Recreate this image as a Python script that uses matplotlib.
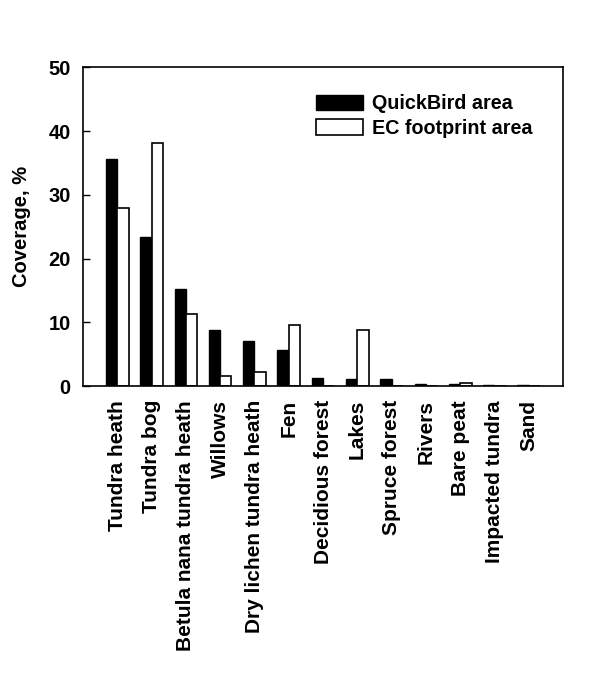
import matplotlib
matplotlib.use("Agg")
import matplotlib.pyplot as plt
import numpy as np

# ── data ──────────────────────────────────────────────────────────────────────
categories = [
    "Tundra heath", "Tundra bog", "Betula nana tundra heath", "Willows",
    "Dry lichen tundra heath", "Fen", "Decidious forest", "Lakes",
    "Spruce forest", "Rivers", "Bare peat", "Impacted tundra", "Sand",
]
quickbird = [35.6, 23.4, 15.2, 8.8, 7.1, 5.6, 1.3, 1.1, 1.2, 0.3, 0.4, 0.2, 0.2]
ec_footprint = [27.9, 38.1, 11.3, 1.6, 2.2, 9.6, 0.0, 8.8, 0.0, 0.0, 0.5, 0.0, 0.0]
y_ticks = [0, 10, 20, 30, 40, 50]

plt.rcParams["font.family"] = ["Liberation Sans", "DejaVu Sans"]
plt.rcParams["font.weight"] = "bold"

fig = plt.figure(figsize=(5.99, 6.86), dpi=100)
ax = fig.add_axes([0.1386, 0.437, 0.8014, 0.465])

x = np.arange(len(categories))
w = 0.33
ax.bar(x - w / 2, quickbird, w, color="black", edgecolor="black",
       linewidth=1, label="QuickBird area")
ax.bar(x + w / 2, ec_footprint, w, color="white", edgecolor="black",
       linewidth=1.2, label="EC footprint area")

ax.set_xlim(-1.0, 13.0)
ax.set_ylim(0, 50)
ax.set_yticks(y_ticks)
ax.set_yticklabels([str(t) for t in y_ticks], fontsize=14.5, fontweight="bold")
ax.set_xticks(x)
ax.set_xticklabels(categories, rotation=90, fontsize=15, fontweight="bold")
ax.tick_params(axis="y", direction="in", length=5, width=1, pad=9)
ax.tick_params(axis="x", length=0, pad=10)
ax.set_ylabel("Coverage, %", fontsize=14.5, fontweight="bold", labelpad=12)

for s in ax.spines.values():
    s.set_linewidth(1.2)

ax.legend(loc="upper left", bbox_to_anchor=(0.485, 0.915), frameon=False,
          fontsize=14.2, handlelength=2.4, handleheight=0.86,
          handletextpad=0.45, labelspacing=0.27, borderaxespad=0,
          borderpad=0)

fig.savefig("out.png", dpi=100)
